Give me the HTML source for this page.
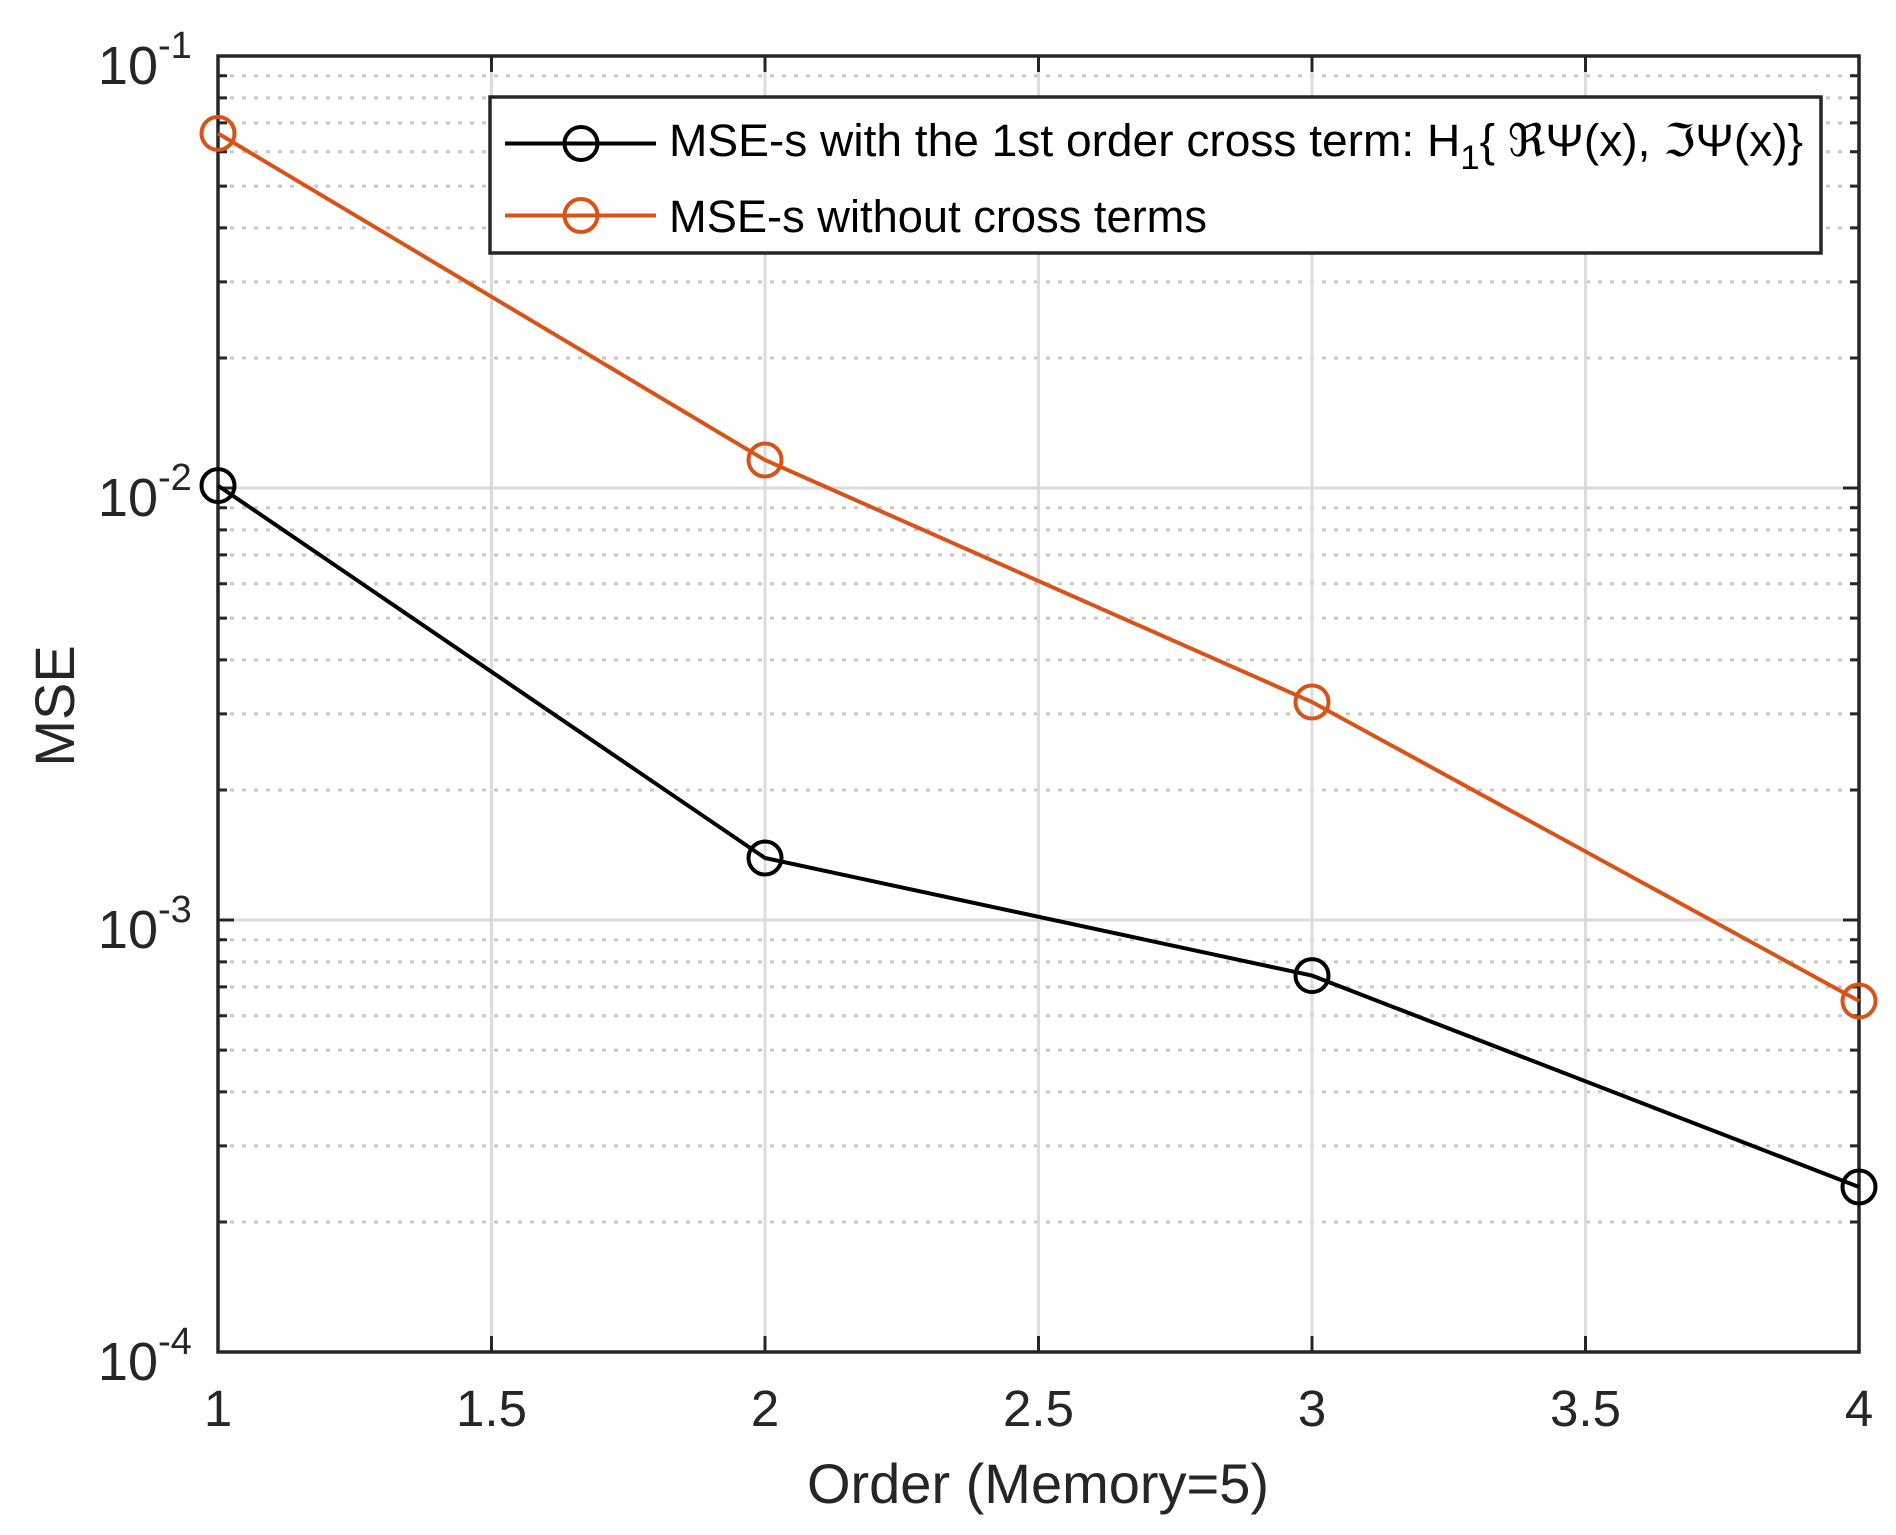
<!DOCTYPE html>
<html><head><meta charset="utf-8"><style>
html,body{margin:0;padding:0;background:#fff;}
svg{display:block;}
text{font-family:"Liberation Sans",Arial,sans-serif;fill:#262626;}
</style></head><body>
<svg width="1896" height="1535" viewBox="0 0 1896 1535" xmlns="http://www.w3.org/2000/svg">
<rect width="1896" height="1535" fill="#fff"/>
<path fill="none" stroke="#c8c8c8" stroke-width="3" stroke-dasharray="4,8"
d="M218 358H1859M218 281.9H1859M218 227.9H1859M218 186.1H1859M218 151.8H1859M218 122.9H1859M218 97.9H1859M218 75.8H1859
M218 790H1859M218 713.9H1859M218 659.9H1859M218 618.1H1859M218 583.8H1859M218 554.9H1859M218 529.9H1859M218 507.8H1859
M218 1222H1859M218 1145.9H1859M218 1091.9H1859M218 1050.1H1859M218 1015.8H1859M218 986.9H1859M218 961.9H1859M218 939.8H1859"/>
<path fill="none" stroke="#dcdcdc" stroke-width="3"
d="M218 488H1859M218 920H1859M491.5 56V1352M765 56V1352M1038.5 56V1352M1312 56V1352M1585.5 56V1352"/>
<path fill="none" stroke="#262626" stroke-width="3"
d="M491.5 1352v-16M765 1352v-16M1038.5 1352v-16M1312 1352v-16M1585.5 1352v-16
M491.5 56v16M765 56v16M1038.5 56v16M1312 56v16M1585.5 56v16
M218 488h16M218 920h16M1859 488h-16M1859 920h-16
M218 358h9M218 281.9h9M218 227.9h9M218 186.1h9M218 151.8h9M218 122.9h9M218 97.9h9M218 75.8h9
M218 790h9M218 713.9h9M218 659.9h9M218 618.1h9M218 583.8h9M218 554.9h9M218 529.9h9M218 507.8h9
M218 1222h9M218 1145.9h9M218 1091.9h9M218 1050.1h9M218 1015.8h9M218 986.9h9M218 961.9h9M218 939.8h9
M1859 358h-9M1859 281.9h-9M1859 227.9h-9M1859 186.1h-9M1859 151.8h-9M1859 122.9h-9M1859 97.9h-9M1859 75.8h-9
M1859 790h-9M1859 713.9h-9M1859 659.9h-9M1859 618.1h-9M1859 583.8h-9M1859 554.9h-9M1859 529.9h-9M1859 507.8h-9
M1859 1222h-9M1859 1145.9h-9M1859 1091.9h-9M1859 1050.1h-9M1859 1015.8h-9M1859 986.9h-9M1859 961.9h-9M1859 939.8h-9"/>
<rect x="218" y="56" width="1641" height="1296" fill="none" stroke="#262626" stroke-width="3.5"/>
<polyline fill="none" stroke="#000" stroke-width="4" points="218,485.6 765,858 1312,975.6 1859,1187"/>
<g fill="none" stroke="#000" stroke-width="4">
<circle cx="218" cy="485.6" r="16.5"/><circle cx="765" cy="858" r="16.5"/><circle cx="1312" cy="975.6" r="16.5"/><circle cx="1859" cy="1187" r="16.5"/>
</g>
<polyline fill="none" stroke="#D95319" stroke-width="4" points="218,133.4 765,460 1312,702 1859,1001"/>
<g fill="none" stroke="#D95319" stroke-width="4">
<circle cx="218" cy="133.4" r="16.5"/><circle cx="765" cy="460" r="16.5"/><circle cx="1312" cy="702" r="16.5"/><circle cx="1859" cy="1001" r="16.5"/>
</g>
<rect x="490" y="97" width="1331" height="156" fill="#fff" stroke="#262626" stroke-width="3.5"/>
<line x1="505" y1="143.5" x2="656" y2="143.5" stroke="#000" stroke-width="4"/>
<circle cx="581" cy="143.5" r="16.5" fill="none" stroke="#000" stroke-width="4"/>
<line x1="505" y1="215.5" x2="656" y2="215.5" stroke="#D95319" stroke-width="4"/>
<circle cx="581" cy="215.5" r="16.5" fill="none" stroke="#D95319" stroke-width="4"/>
<text x="669" y="156" font-size="45" style="fill:#000" textLength="1134" lengthAdjust="spacingAndGlyphs">MSE-s with the 1st order cross term: H<tspan dy="13" font-size="34">1</tspan><tspan dy="-13">{ ℜΨ(x),  ℑΨ(x)}</tspan></text>
<text x="669" y="232" font-size="45" style="fill:#000" textLength="538" lengthAdjust="spacingAndGlyphs">MSE-s without cross terms</text>
<g font-size="51" text-anchor="middle">
<text x="218" y="1426">1</text><text x="491.5" y="1426">1.5</text><text x="765" y="1426">2</text><text x="1038.5" y="1426">2.5</text><text x="1312" y="1426">3</text><text x="1585.5" y="1426">3.5</text><text x="1859" y="1426">4</text>
</g>
<g font-size="54" text-anchor="end">
<text x="158" y="84">10</text><text x="158" y="516">10</text><text x="158" y="948">10</text><text x="158" y="1380">10</text>
</g>
<g font-size="38" text-anchor="start">
<text x="158" y="58">-1</text><text x="158" y="490">-2</text><text x="158" y="922">-3</text><text x="158" y="1354">-4</text>
</g>
<text x="1038" y="1503" font-size="56" text-anchor="middle">Order (Memory=5)</text>
<text transform="translate(74,706) rotate(-90)" font-size="56" text-anchor="middle">MSE</text>
</svg>
</body></html>
